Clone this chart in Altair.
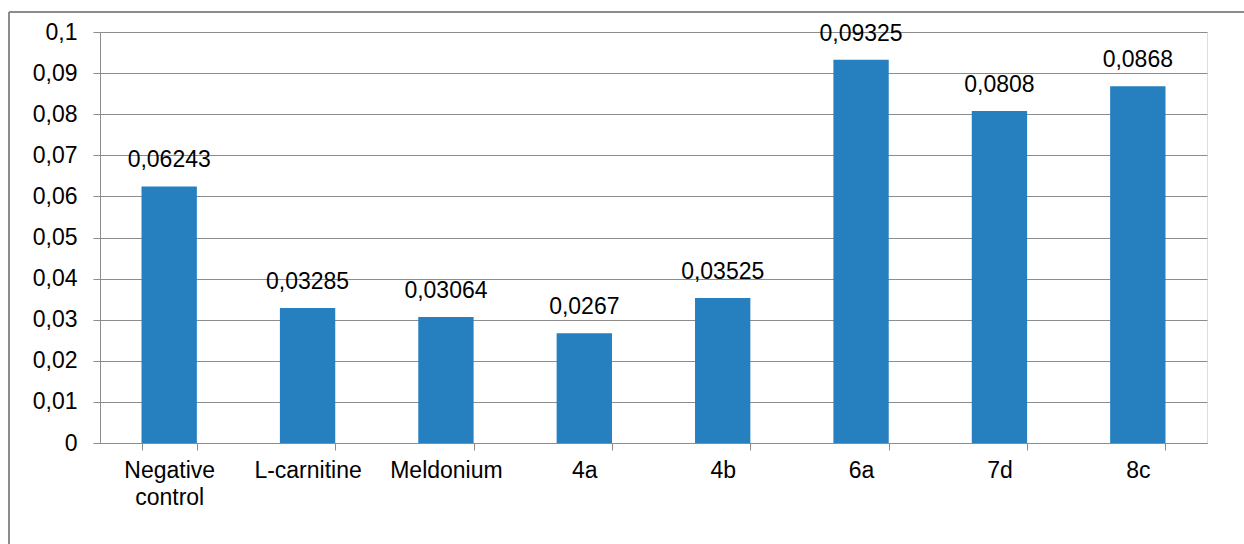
import altair as alt
import pandas as pd

categories = ["Negative control", "L-carnitine", "Meldonium", "4a", "4b", "6a", "7d", "8c"]
values = [0.06243, 0.03285, 0.03064, 0.0267, 0.03525, 0.09325, 0.0808, 0.0868]
labels = ["0,06243", "0,03285", "0,03064", "0,0267", "0,03525", "0,09325", "0,0808", "0,0868"]

df = pd.DataFrame({"cat": categories, "val": values, "lab": labels})

FONT = "Liberation Sans"
FS = 23
GRID = "#8c8c8c"
BLUE = "#2680C0"

x_enc = alt.X("cat:N", sort=categories, title=None,
              scale=alt.Scale(paddingInner=0.6, paddingOuter=0.3),
              axis=alt.Axis(labelAngle=0, tickBand="extent", grid=False,
                            labelExpr="split(datum.label, ' ')",
                            labelFont=FONT, labelFontSize=FS, labelColor="#000",
                            labelPadding=9, labelLineHeight=27,
                            domainColor=GRID, tickColor=GRID, tickSize=7))
y_enc = alt.Y("val:Q", title=None,
              scale=alt.Scale(domain=[0, 0.1], nice=False),
              axis=alt.Axis(values=[i / 100 for i in range(11)],
                            labelExpr="replace(format(datum.value, '.2~f'), '.', ',')",
                            labelFont=FONT, labelFontSize=FS, labelColor="#000",
                            labelPadding=16, grid=True, gridColor=GRID,
                            domainColor=GRID, tickColor=GRID, tickSize=7))

base = alt.Chart(df)
bars = base.mark_bar(color=BLUE).encode(x=x_enc, y=y_enc)
text = base.mark_text(font=FONT, fontSize=FS, baseline="alphabetic", dy=-19, color="#000").encode(
    x=alt.X("cat:N", sort=categories), y="val:Q", text="lab:N")

one = alt.Chart(pd.DataFrame({"a": [0]}))
top_line = one.mark_rule(color="#8c8c8c", strokeWidth=2, clip=False).encode(
    x=alt.value(-91), x2=alt.value(1144), y=alt.value(-20))
left_line = one.mark_rule(color="#8c8c8c", strokeWidth=2, clip=False).encode(
    x=alt.value(-91), y=alt.value(-20), y2=alt.value(512))

chart = alt.layer(bars, text, top_line, left_line).properties(
    width=1107, height=411,
    autosize=alt.AutoSizeParams(type="none"),
    padding={"left": 100, "top": 32, "right": 37, "bottom": 101},
).configure_view(stroke=None).configure(background="white")

chart.save("out.html", embed_options={"renderer": "svg", "actions": False})
